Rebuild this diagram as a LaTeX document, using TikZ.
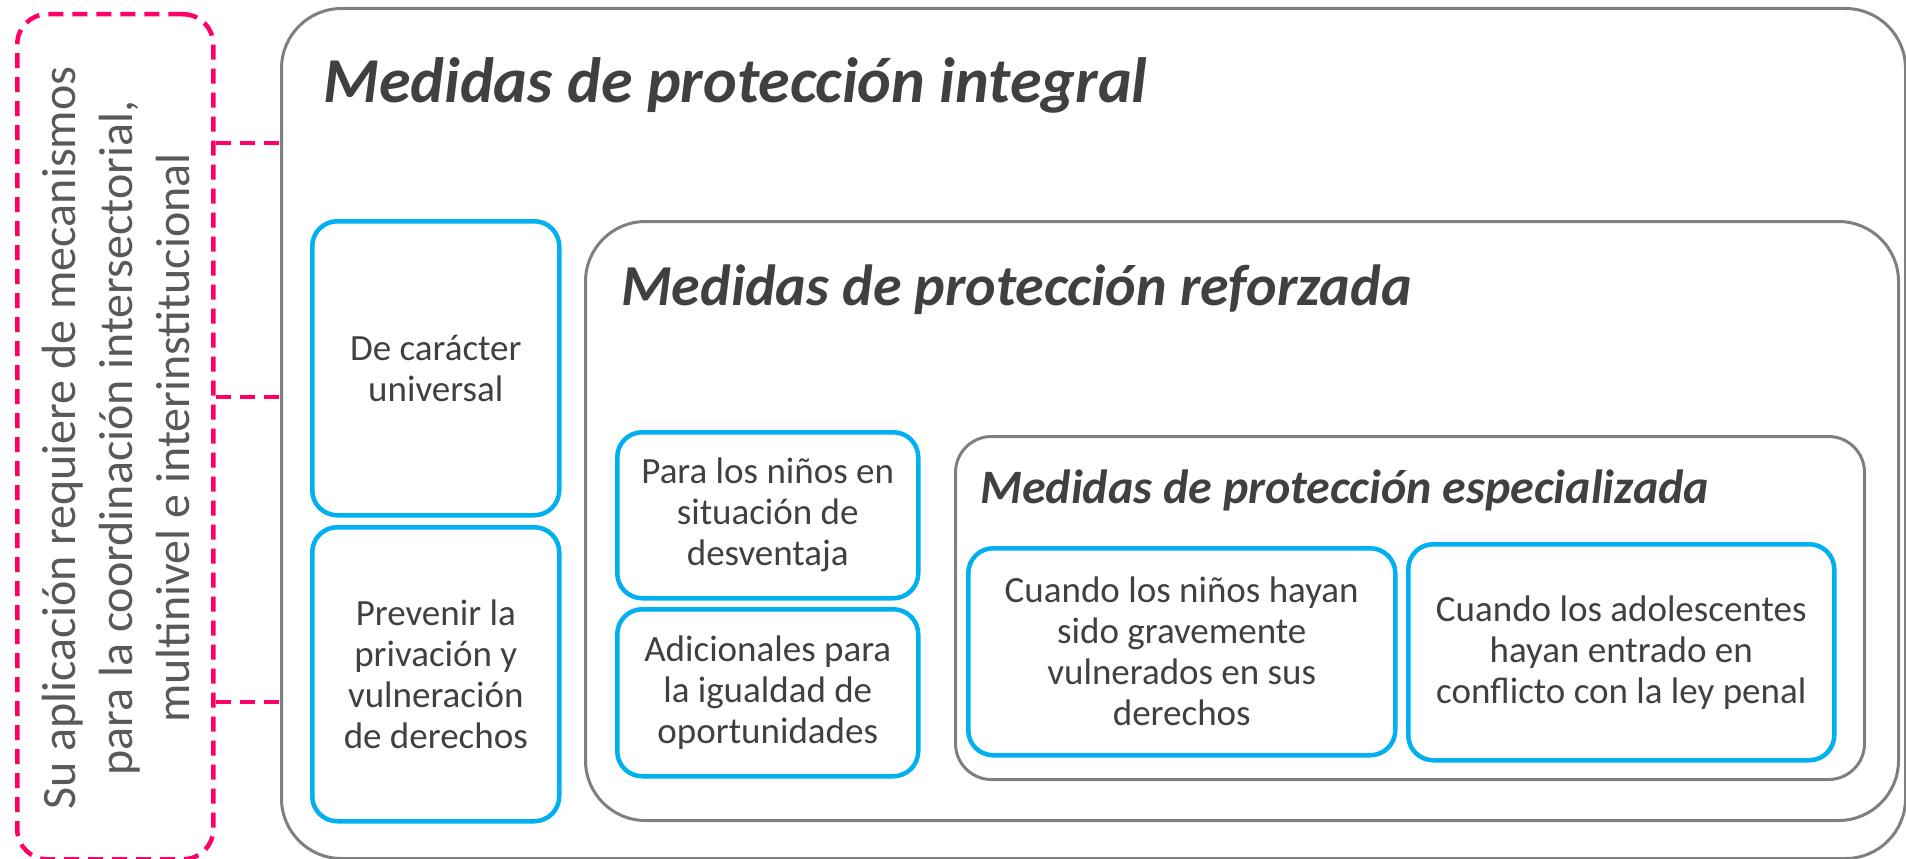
\documentclass[tikz,border=0pt]{standalone}
\usepackage{fontspec}
\setmainfont{Carlito}
\usepackage{tikz}
\definecolor{frame}{HTML}{7F7F7F}
\definecolor{sky}{HTML}{00B0F0}
\definecolor{rosa}{HTML}{FF0066}
\definecolor{ink}{HTML}{404040}
\definecolor{inklight}{HTML}{595959}

\begin{document}
\begin{tikzpicture}[x=1pt, y=-1pt,
  tierbox/.style={draw=frame, line width=3pt, rounded corners=#1, inner sep=0pt, anchor=north west},
  cellbox/.style={draw=sky, line width=4.5pt, rounded corners=25pt, inner sep=0pt, anchor=north west,
    align=center, text=ink, font=\fontsize{37}{41}\selectfont},
  titletext/.style={anchor=base west, inner sep=0pt, text=ink},
  dashlink/.style={draw=rosa, line width=4.5pt, dash pattern=on 15pt off 9pt}]
\useasboundingbox (0,0) rectangle (1906,859);
\node[tierbox=60pt, minimum width=1624pt, minimum height=850pt] (integral) at (280,7) {};
\node[tierbox=60pt, minimum width=1313pt, minimum height=599pt] (reforzada) at (584,220) {};
\node[tierbox=36pt, minimum width=909pt, minimum height=343pt] (especial) at (954,435) {};
\node[draw=rosa, line width=4.5pt, dash pattern=on 15pt off 9pt, rounded corners=30pt, inner sep=0pt,
  anchor=north west, minimum width=196pt, minimum height=845pt] (note) at (15,12) {};
\node[rotate=90, align=center, text=inklight, font=\fontsize{48}{57}\selectfont] (notetext) at (116,438)
  {Su aplicación requiere de mecanismos\\para la coordinación intersectorial,\\multinivel e interinstitucional};
\node[titletext, font=\bfseries\itshape\fontsize{64}{70}\selectfont] (tintegral) at (323,102) {Medidas de protección integral};
\node[titletext, font=\bfseries\itshape\fontsize{58}{64}\selectfont] (treforzada) at (621,305) {Medidas de protección reforzada};
\node[titletext, font=\bfseries\itshape\fontsize{48}{54}\selectfont] (tespecial) at (980,503) {Medidas de protección especializada};
\foreach \nm/\x/\y/\w/\h/\txt in {
  universal/310/219/247/294/{De carácter\\universal},
  prevenir/310/525/247/294/{Prevenir la\\privación y\\vulneración\\de derechos},
  desventaja/615/430/301/166/{Para los niños en\\situación de\\desventaja},
  igualdad/615/607/301/167/{Adicionales para\\la igualdad de\\oportunidades},
  vulnerados/966/546/427/207/{Cuando los niños hayan\\sido gravemente\\vulnerados en sus\\derechos},
  conflicto/1406/542/426/216/{Cuando los adolescentes\\hayan entrado en\\conflicto con la ley penal}}{
  \node[cellbox, minimum width=\w pt, minimum height=\h pt] (\nm) at (\x,\y) {\txt};
}
\foreach \i/\yy in {1/143,2/397,3/702}{
  \coordinate (k\i) at (0,\yy);
  \draw[dashlink] (note.east |- k\i) -- (integral.west |- k\i);
}
\end{tikzpicture}
\end{document}
